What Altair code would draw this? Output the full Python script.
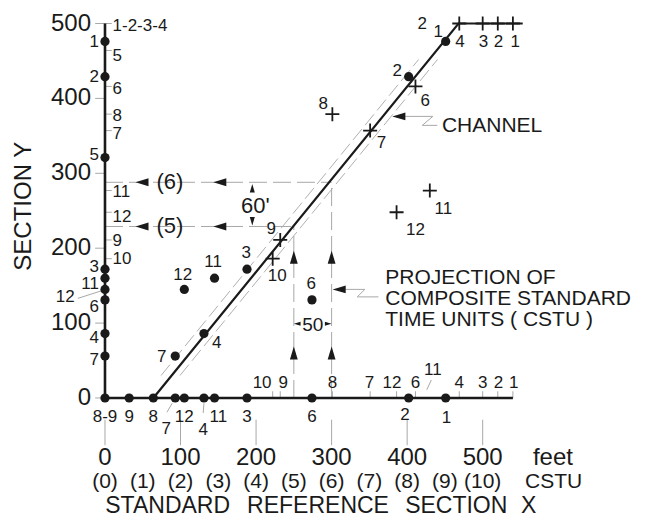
import altair as alt
import pandas as pd

FONT = "Liberation Sans"
INK = "#1a1a1a"
GRAY = "#a8a8a8"

# ---- frame (data units: feet on X, feet on Y) ----
W, H = 638, 512
XMIN, XMAX = -128.4, 716.2
YMIN, YMAX = -162.9, 520.7
X_END, Y_END = 540, 500

# major ticks
major_ticks = [0, 100, 200, 300, 400, 500]
cstu_pos = [0, 50, 100, 150, 200, 250, 300, 350, 400, 450, 500]
cstu_labels = ["(0)", "(1)", "(2)", "(3)", "(4)", "(5)", "(6)", "(7)", "(8)", "(9)", "(10)"]

# ---- line of correlation ----
loc_x = [64, 468, 553]
loc_y = [0, 500, 500]
channel_off = [-14, 11]
channel_y = [30, 452]

# ---- first occurrences (dots) ----
dot_ids = ["1", "2", "3", "4", "6", "7", "11", "12"]
dot_x = [451, 402, 188, 131, 274, 93, 145, 105]
dot_y = [476, 429, 172, 86, 131, 56, 160, 145]
dot_lab_x = [441, 387, 187, 148, 273, 75, 143, 103]
dot_lab_y = [488, 437, 193, 73, 152, 55, 181, 164]

# dots on section X axis
xdot_ids = ["8-9", "9", "8", "7", "12", "4", "11", "3", "6", "2", "1"]
xdot_val = [0, 32, 64, 93, 105, 131, 145, 188, 274, 402, 451]
xdot_lab_x = [0, 32, 64, 81, 105, 130, 150, 188, 274, 397, 452]
xdot_lab_y = [-26, -26, -26, -41, -26, -43, -26, -26, -26, -23, -27]

# dots on section Y axis
ydot_ids = ["1", "2", "5", "3", "11", "12", "6", "4", "7"]
ydot_val = [476, 429, 321, 172, 160, 145, 131, 86, 56]
ydot_lab_x = [-8, -8, -8, -8, -8, -40, -8, -8, -8]
ydot_lab_y = [475, 428, 325, 175, 152, 135, 121, 80, 51]

# ---- last occurrences (crosses) ----
cross_ids = ["1", "2", "3", "4", "6", "7", "8", "9", "10", "11", "12"]
cross_x = [540, 520, 500, 469, 411, 351, 301, 232, 222, 430, 386]
cross_y = [500, 500, 500, 500, 416, 357, 379, 211, 186, 277, 248]
cross_lab_x = [543, 521, 501, 470, 424, 366, 289, 220, 228, 448, 411]
cross_lab_y = [475, 475, 475, 475, 396, 340, 393, 225, 163, 253, 224]

# cross labels above section X axis
xtop_ids = ["10", "9", "8", "7", "12", "6", "11", "4", "3", "2", "1"]
xtop_lab_x = [208, 236, 301, 350, 380, 411, 434, 469, 500, 521, 541]
xtop_lab_y = [20, 20, 20, 20, 20, 20, 37, 20, 20, 20, 20]

# cross labels right of section Y axis
yright_ids = ["1-2-3-4", "5", "6", "8", "7", "11", "12", "9", "10"]
yright_tick = [500, 464, 416, 379, 357, 277, 248, 211, 186]
yright_lab = [496, 456, 412, 377, 353, 275, 241, 209, 185]

# ---- projections of CSTU ----
proj_x = [250, 300]
proj_y = [229, 288]
proj_labels = ["(5)", "(6)"]

# leader lines (x, y, x2, y2)
leaders = [
    (-36, 133, -5, 143),     # "12" on Y
    (82, -19, 89, -7),       # "7" on X
    (130, -20, 131, -7),     # "4" on X
    (432, 24, 426, 11),      # "11" on X
]
channel_leader_x = [397, 434, 420, 440]
channel_leader_y = [376, 376, 364, 364]
proj_leader_x = [318, 344, 334, 362]
proj_leader_y = [145, 145, 135, 135]

xsc = alt.Scale(domain=[XMIN, XMAX], nice=False, zero=False)
ysc = alt.Scale(domain=[YMIN, YMAX], nice=False, zero=False)
X = alt.X("x:Q", scale=xsc, axis=None)
Y = alt.Y("y:Q", scale=ysc, axis=None)


def segs(rows, color, width, dash=None):
    df = pd.DataFrame(rows, columns=["x", "y", "x2", "y2"])
    kw = dict(color=color, strokeWidth=width)
    if dash:
        kw["strokeDash"] = dash
    return alt.Chart(df).mark_rule(**kw).encode(x=X, y=Y, x2="x2:Q", y2="y2:Q")


def poly(xs, ys, color, width, dash=None):
    df = pd.DataFrame({"x": xs, "y": ys, "o": range(len(xs))})
    kw = dict(color=color, strokeWidth=width)
    if dash:
        kw["strokeDash"] = dash
    return alt.Chart(df).mark_line(**kw).encode(x=X, y=Y, order="o:Q")


def texts(labels, xs, ys, size, align="center", angle=None, color=INK):
    df = pd.DataFrame({"x": xs, "y": ys, "t": labels})
    kw = dict(fontSize=size, align=align, baseline="middle", font=FONT, color=color)
    if angle is not None:
        kw["angle"] = angle
    return alt.Chart(df).mark_text(**kw).encode(x=X, y=Y, text="t:N")


def symbols(xs, ys, shape, size, filled=True, width=1.0):
    df = pd.DataFrame({"x": xs, "y": ys})
    kw = dict(shape=shape, size=size, filled=filled, color=INK, opacity=1)
    if not filled:
        kw["strokeWidth"] = width
    else:
        kw["strokeWidth"] = 0
    return alt.Chart(df).mark_point(**kw).encode(x=X, y=Y)


slope = (loc_y[1] - loc_y[0]) / (loc_x[1] - loc_x[0])
layers = []

# gray ticks
layers.append(segs([(-13, v, 0, v) for v in major_ticks], GRAY, 1))
layers.append(segs([(v, -29, v, -63) for v in major_ticks], GRAY, 1))
layers.append(segs([(0, v, 9, v) for v in yright_tick], GRAY, 1))
layers.append(segs([(v, 0, v, 9) for v in cross_x if v != 430], GRAY, 1))
layers.append(segs(leaders, GRAY, 1))

# channel
for off in channel_off:
    cx = [loc_x[0] + yy / slope + off for yy in channel_y]
    layers.append(poly(cx, channel_y, "#b0b0b0", 1, [14, 5]))

# projection dashed lines
layers.append(segs([(px, 0, px, py) for px, py in zip(proj_x, proj_y)], GRAY, 1, [18, 6]))
layers.append(segs([(0, py, px, py) for px, py in zip(proj_x, proj_y)], GRAY, 1, [18, 6]))

# leaders
layers.append(poly(channel_leader_x, channel_leader_y, GRAY, 1))
layers.append(poly(proj_leader_x, proj_leader_y, GRAY, 1))

# axes and line of correlation
layers.append(segs([(0, 0, X_END, 0), (0, 0, 0, Y_END)], INK, 2.6))
layers.append(poly(loc_x, loc_y, INK, 2.2))

# arrowheads
LEFT = "M-1,0L1,-0.6L1,0.6Z"
RIGHT = "M1,0L-1,-0.6L-1,0.6Z"
UP = "M0,-1L0.6,1L-0.6,1Z"
DOWN = "M0,1L0.6,-1L-0.6,-1Z"
layers.append(symbols([49, 152, 49, 152], [288, 288, 229, 229], LEFT, 170))
layers.append(symbols([250, 300, 250, 300], [188, 188, 60, 60], UP, 170))
layers.append(symbols([195], [280], UP, 70))
layers.append(symbols([195], [236], DOWN, 70))
layers.append(symbols([254.5], [99], LEFT, 45))
layers.append(symbols([295.5], [99], RIGHT, 45))
layers.append(symbols([389], [376], LEFT, 170))
layers.append(symbols([310], [145], LEFT, 170))

# dots and crosses
layers.append(symbols(dot_x, dot_y, "circle", 85))
layers.append(symbols(xdot_val, [0] * len(xdot_val), "circle", 85))
layers.append(symbols([0] * len(ydot_val), ydot_val, "circle", 85))
layers.append(symbols(cross_x, cross_y, "M-1,0L1,0M0,-1L0,1", 196, filled=False, width=1.8))

# species labels
layers.append(texts(dot_ids, dot_lab_x, dot_lab_y, 17))
layers.append(texts(["2"], [420], [500], 17))
layers.append(texts(cross_ids, cross_lab_x, cross_lab_y, 17))
layers.append(texts(xdot_ids, xdot_lab_x, xdot_lab_y, 17))
layers.append(texts(xtop_ids, xtop_lab_x, xtop_lab_y, 17))
layers.append(texts(ydot_ids, ydot_lab_x, ydot_lab_y, 17, align="right"))
layers.append(texts(yright_ids, [10] * len(yright_ids), yright_lab, 17, align="left"))

# axis numbers
layers.append(texts([str(v) for v in major_ticks], [-18.5] * 6, major_ticks, 24, align="right"))
layers.append(texts([str(v) for v in major_ticks], major_ticks, [-80.7] * 6, 24))
layers.append(texts(cstu_labels, cstu_pos, [-112] * len(cstu_pos), 21))
layers.append(texts(["feet"], [593], [-80], 24))
layers.append(texts(["CSTU"], [594], [-112], 21))

# titles
layers.append(texts(["STANDARD", "REFERENCE", "SECTION", "X"], [83, 282, 465, 561], [-144.5] * 4, 23))
layers.append(texts(["SECTION Y"], [-106.6], [256], 24, angle=270))

# annotations
layers.append(texts(proj_labels, [86, 86], proj_y, 22))
layers.append(texts(["60'"], [199], [257], 22))
layers.append(texts(["50"], [275], [98], 19))
layers.append(texts(["CHANNEL"], [446], [363], 21, align="left"))
layers.append(texts(["PROJECTION OF", "COMPOSITE STANDARD", "TIME UNITS ( CSTU )"],
                    [371, 371, 371], [160, 132, 104], 21, align="left"))

chart = alt.layer(*layers).properties(
    width=W, height=H, autosize=alt.AutoSizeParams(type="none"), padding=0
).configure_view(stroke=None)

chart.save("out.html", embed_options={"renderer": "svg", "actions": False})
